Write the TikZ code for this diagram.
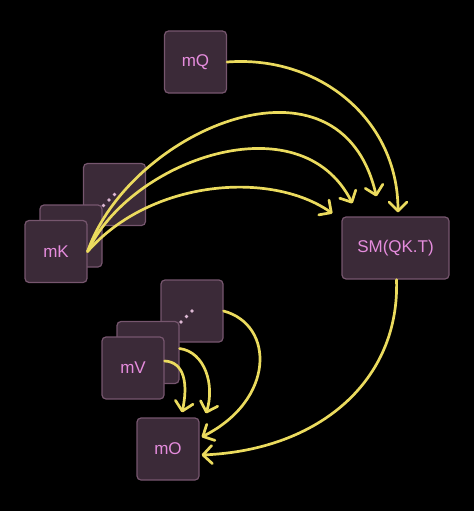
\documentclass[tikz,border=0pt]{standalone}
\usepackage{fontspec}
\setmainfont{Liberation Sans}
\usetikzlibrary{arrows.meta}
\definecolor{boxfill}{HTML}{3B2A38}
\definecolor{boxline}{HTML}{76566E}
\definecolor{labelpink}{HTML}{E58CDD}
\definecolor{arrowyellow}{HTML}{EBDB5E}
\definecolor{dotpink}{HTML}{DDB8D4}
\begin{document}
\begin{tikzpicture}[x=1pt, y=-1pt,
    tile/.style={draw=boxline, fill=boxfill, line width=1.2pt, rounded corners=4pt,
        minimum width=62pt, minimum height=62pt, inner sep=0pt,
        text=labelpink, font=\fontsize{17}{20}\selectfont},
    flow/.style={draw=arrowyellow, line width=2.7pt, line cap=round,
        -{Straight Barb[length=9pt, width=18pt, line cap=round, line join=round]}}]
    \fill[black] (0,0) rectangle (474,511);
    \useasboundingbox (0,0) rectangle (474,511);
    % query and softmax
    \node[tile] (mQ) at (195.5,62) {mQ};
    \node[tile, minimum width=107pt] (sm) at (395.5,248) {SM(QK.T)};
    % key stack
    \node[tile] (kback) at (114.5,194.5) {};
    \node[tile] (kmid) at (71,236) {};
    \node[tile] (mK) at (56,251.5) {mK};
    % value stack
    \node[tile] (vback) at (192,311) {};
    \node[tile] (vmid) at (148,352.5) {};
    \node[tile] (mV) at (133,368) {mV};
    \node[tile] (mO) at (168,449) {mO};
    \foreach \d in {0,1,2} {
        \fill[dotpink] ([shift={(-5.5*\d,5.5*\d)}]kback.center) circle (1.9pt);
        \fill[dotpink] ([shift={(-5.5*\d,5.5*\d)}]vback.center) circle (1.9pt);
    }
    % arrows into the softmax
    \draw[flow] (mQ.east) .. controls (320,55) and (398,120) .. ([xshift=2.5pt,yshift=4pt]sm.north);
    \draw[flow] (mK.east) .. controls (150,180) and (270,170) .. ([xshift=-9pt,yshift=3pt]sm.north west);
    \draw[flow] (mK.east) .. controls (130,160) and (300,100) .. ([xshift=11pt,yshift=13pt]sm.north west);
    \draw[flow] (mK.east) .. controls (130,130) and (340,40) .. ([xshift=35pt,yshift=20pt]sm.north west);
    % arrows into the output
    \draw[flow] ([yshift=7pt]mV.east) .. controls (185,362) and (188,385) .. ([xshift=14pt,yshift=5pt]mO.north);
    \draw[flow] ([yshift=4pt]vmid.east) .. controls (205,352) and (215,385) .. ([xshift=38pt,yshift=4pt]mO.north);
    \draw[flow] (vback.east) .. controls (275,325) and (275,400) .. ([xshift=2pt,yshift=12pt]mO.east);
    \draw[flow] ([xshift=1pt]sm.south) .. controls (400,380) and (320,450) .. ([xshift=2pt,yshift=-6pt]mO.east);
\end{tikzpicture}
\end{document}
